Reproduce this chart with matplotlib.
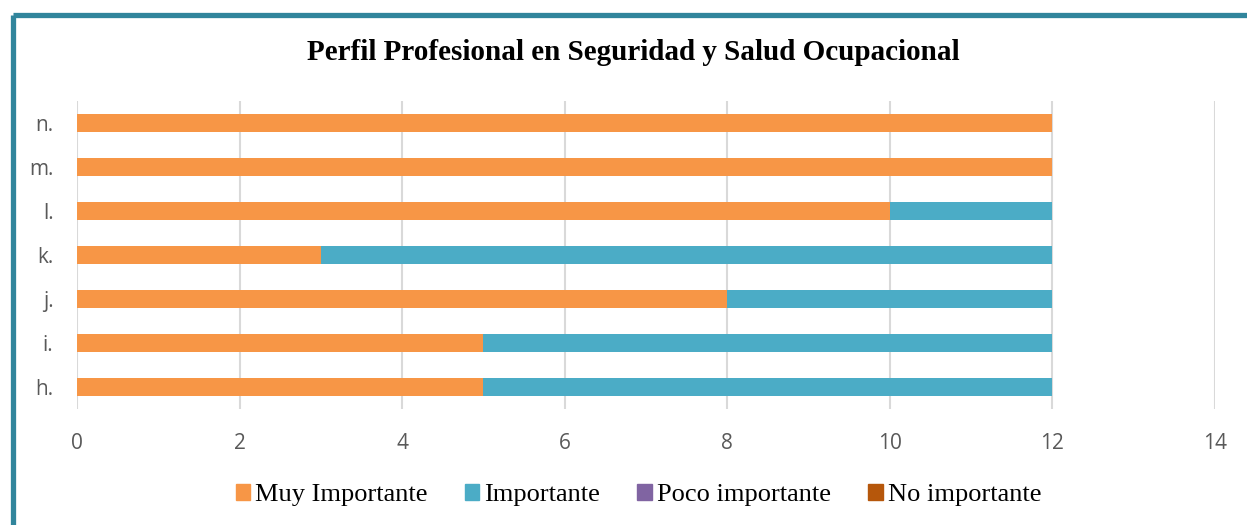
import matplotlib
matplotlib.use("agg")
import matplotlib.pyplot as plt
from matplotlib.lines import Line2D
import numpy as np

title = "Perfil Profesional en Seguridad y Salud Ocupacional"
categories = ["h.", "i.", "j.", "k.", "l.", "m.", "n."]
muy_importante = [5, 5, 8, 3, 10, 12, 12]
importante = [7, 7, 4, 9, 2, 0, 0]
poco_importante = [0, 0, 0, 0, 0, 0, 0]
no_importante = [0, 0, 0, 0, 0, 0, 0]

series = [
    ("Muy Importante", muy_importante, "#F79646"),
    ("Importante", importante, "#4BACC6"),
    ("Poco importante", poco_importante, "#8064A2"),
    ("No importante", no_importante, "#B6570B"),
]

fig = plt.figure(figsize=(12.47, 5.25), dpi=100)
W, H = 1247, 525
ax = fig.add_axes([77 / W, 1 - 409 / H, (1215 - 77) / W, (409 - 101) / H])

y = np.arange(len(categories))
left = np.zeros(len(categories))
for name, vals, color in series:
    ax.barh(y, vals, left=left, height=0.4, color=color, label=name, zorder=3)
    left = left + np.array(vals)

ax.set_xlim(0, 14)
ax.set_ylim(-0.5, len(categories) - 0.5)
ax.set_xticks(range(0, 15, 2))
ax.set_yticks(y)
ax.set_yticklabels(categories)
ax.grid(axis="x", color="#D9D9D9", linewidth=1.5, zorder=0)
for s in ax.spines.values():
    s.set_visible(False)
ax.tick_params(length=0, labelsize=15, colors="#595959")
ax.tick_params(axis="y", pad=17)
ax.tick_params(axis="x", pad=17)
for lab in ax.get_xticklabels() + ax.get_yticklabels():
    lab.set_family("Open Sans")

fig.text(0.508, 1 - 53 / H, title, ha="center", va="center",
         family="Liberation Serif", weight="bold", fontsize=21)

handles = [plt.Rectangle((0, 0), 1, 1, color=c) for _, _, c in series]
fig.legend(handles, [n for n, _, _ in series], loc="center",
           bbox_to_anchor=(0.512, 1 - 495 / H), ncol=4, frameon=False,
           prop={"family": "Liberation Serif", "size": 19},
           handlelength=0.55, handleheight=0.55, handletextpad=0.2,
           columnspacing=1.4)

# teal frame on top and left
fig.add_artist(Line2D([12.5 / W, 1], [1 - 14.5 / H, 1 - 14.5 / H],
                      color="#31859C", linewidth=3.8, solid_capstyle="butt"))
fig.add_artist(Line2D([12.5 / W, 12.5 / W], [0, 1 - 14.5 / H],
                      color="#31859C", linewidth=3.8, solid_capstyle="butt"))

plt.savefig("out.png", dpi=100)
plt.close()
